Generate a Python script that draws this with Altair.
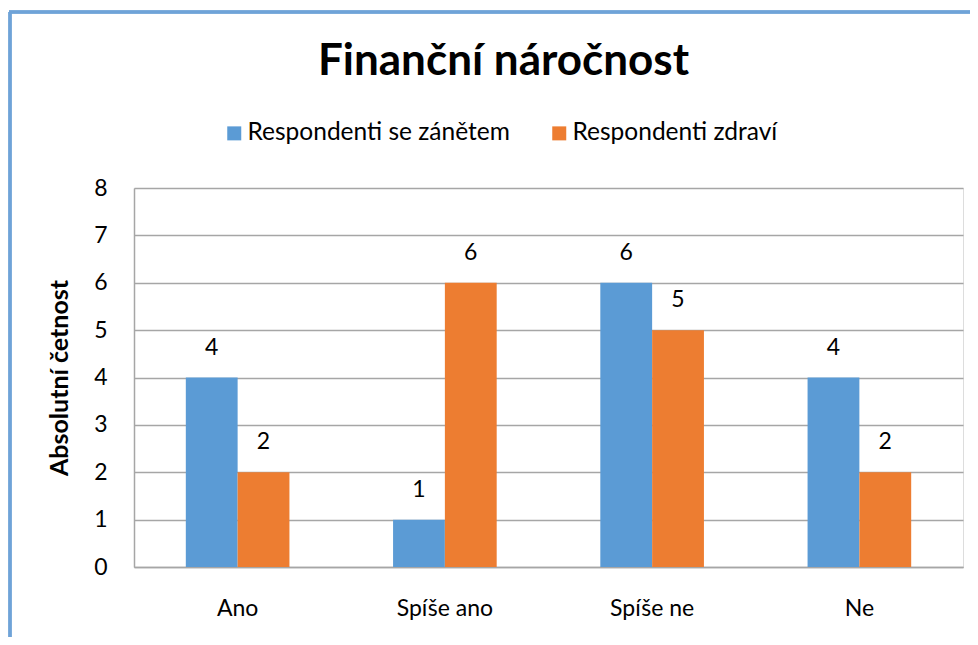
import altair as alt
import pandas as pd

categories = ["Ano", "Spíše ano", "Spíše ne", "Ne"]
series_names = ["Respondenti se zánětem", "Respondenti zdraví"]
zanet = [4, 1, 6, 4]
zdravi = [2, 6, 5, 2]
colors = ["#5B9BD5", "#ED7D31"]
y_ticks = [0, 1, 2, 3, 4, 5, 6, 7, 8]

rows = []
for c, a, b in zip(categories, zanet, zdravi):
    rows.append({"kat": c, "serie": series_names[0], "hodnota": a})
    rows.append({"kat": c, "serie": series_names[1], "hodnota": b})
df = pd.DataFrame(rows)

FONT = "Lato"
FS = 23

x_enc = alt.X(
    "kat:N",
    sort=categories,
    scale=alt.Scale(paddingInner=0.5, paddingOuter=0.25),
    axis=alt.Axis(
        title=None,
        labelAngle=0,
        labelFont=FONT,
        labelFontSize=FS,
        labelColor="#000000",
        labelPadding=30,
        ticks=False,
        domainColor="#A6A6A6",
        domainWidth=1.5,
        grid=False,
    ),
)
y_enc = alt.Y(
    "hodnota:Q",
    scale=alt.Scale(domain=[0, 8], nice=False),
    axis=alt.Axis(
        title="Absolutní četnost",
        titleFont=FONT,
        titleFontSize=25,
        titleFontWeight="bold",
        titleColor="#000000",
        titlePadding=21,
        values=y_ticks,
        labelFont=FONT,
        labelFontSize=FS,
        labelColor="#000000",
        labelPadding=27,
        ticks=False,
        domainColor="#A6A6A6",
        domainWidth=1.5,
        gridColor="#A6A6A6",
        gridWidth=1.5,
    ),
)
xoff = alt.XOffset("serie:N", sort=series_names)

bars = alt.Chart(df).mark_bar().encode(
    x=x_enc,
    xOffset=xoff,
    y=y_enc,
    color=alt.Color(
        "serie:N",
        sort=series_names,
        scale=alt.Scale(domain=series_names, range=colors),
        legend=alt.Legend(
            title=None,
            orient="none",
            direction="horizontal",
            legendX=88,
            legendY=-67,
            symbolType="square",
            symbolSize=196,
            symbolStrokeWidth=0,
            labelFont=FONT,
            labelFontSize=24.5,
            labelColor="#000000",
            labelOffset=1,
            labelLimit=0,
            columnPadding=37,
        ),
    ),
)

labels = alt.Chart(df).mark_text(
    baseline="bottom", dy=-18, font=FONT, fontSize=FS, color="#000000"
).encode(
    x=alt.X("kat:N", sort=categories),
    xOffset=xoff,
    y="hodnota:Q",
    text="hodnota:Q",
)

border_left = alt.Chart(df).mark_rule(color="#6FA3D8", strokeWidth=2.5).encode(
    x=alt.value(-124), y=alt.value(-176), y2=alt.value(460)
)
border_top = alt.Chart(df).mark_rule(color="#6FA3D8", strokeWidth=2.5).encode(
    x=alt.value(-125), x2=alt.value(860), y=alt.value(-176)
)

chart = (
    alt.layer(bars, labels, border_left, border_top)
    .properties(
        width=829,
        height=379,
        title=alt.TitleParams(
            "Finanční náročnost",
            font=FONT,
            fontSize=44,
            fontWeight="bold",
            color="#000000",
            anchor="middle",
            dx=-45,
            offset=-73,
        ),
        autosize=alt.AutoSizeParams(type="none"),
        padding={"left": 126, "top": 180, "right": 7, "bottom": 70},
    )
    .configure_view(stroke=None)
    .configure(background="#FFFFFF")
)

chart.save("out.html", embed_options={"renderer": "svg", "actions": False})
